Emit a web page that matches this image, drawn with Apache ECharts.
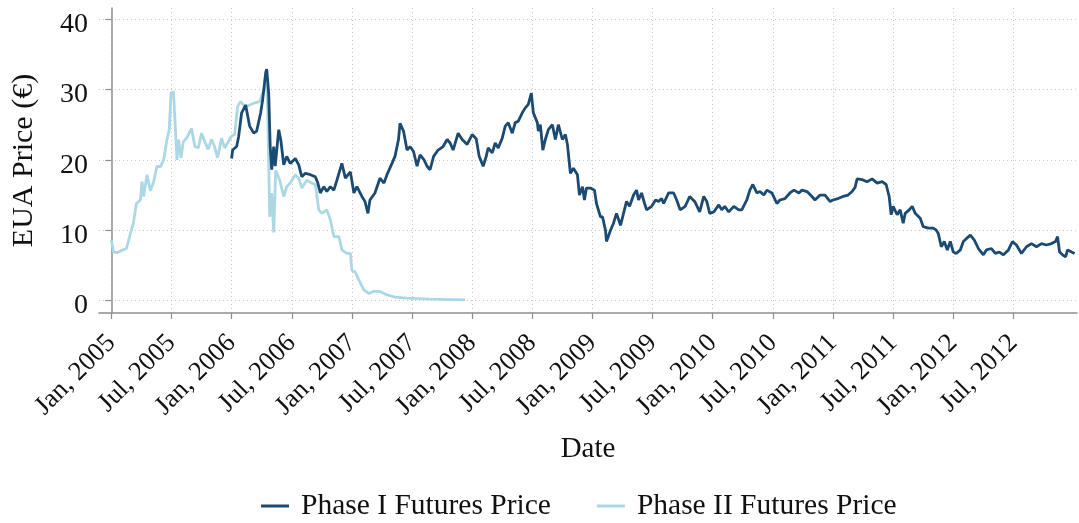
<!DOCTYPE html>
<html>
<head>
<meta charset="utf-8">
<script src="https://cdn.jsdelivr.net/npm/echarts@6/dist/echarts.min.js"></script>
<style>
  html, body { margin: 0; padding: 0; background: #fff; }
  #chart { width: 1079px; height: 523px; }
</style>
</head>
<body>
<div id="chart"></div>
<script>
// x values are months counted from the first tick (Jan, 2005)
const tickMonths = [0, 6, 12, 18, 24, 30, 36, 42, 48, 54, 60, 66, 72, 78, 84, 90];
const tickLabels = ['Jan, 2005', 'Jul, 2005', 'Jan, 2006', 'Jul, 2006', 'Jan, 2007', 'Jul, 2007',
  'Jan, 2008', 'Jul, 2008', 'Jan, 2009', 'Jul, 2009', 'Jan, 2010', 'Jul, 2010',
  'Jan, 2011', 'Jul, 2011', 'Jan, 2012', 'Jul, 2012'];
const yTicks = [0, 10, 20, 30, 40];

const phase1Months = [12.0, 12.1, 12.5, 12.7, 13.0, 13.4, 13.8, 14.2, 14.5, 14.9, 15.1, 15.4, 15.5, 15.7, 15.85,
  16.0, 16.2, 16.35, 16.7, 16.9, 17.2, 17.5, 17.85, 18.35, 18.7, 19.0, 19.35, 19.85, 20.35, 20.6, 20.85,
  21.2, 21.5, 21.85, 22.2, 22.5, 23.0, 23.35, 23.85, 24.2, 24.5, 25.0, 25.3, 25.6, 25.8, 26.3, 26.8,
  27.2, 27.5, 28.0, 28.3, 28.65, 28.8, 29.15, 29.5, 29.8, 30.15, 30.5, 30.8, 31.2, 31.5, 31.8, 32.15,
  32.6, 33.1, 33.5, 33.8, 34.1, 34.6, 35.0, 35.5, 36.0, 36.4, 36.7, 37.1, 37.4, 37.6, 38.0, 38.3,
  38.6, 39.0, 39.3, 39.6, 40.0, 40.3, 40.6, 41.0, 41.3, 41.6, 41.9, 42.1, 42.5, 42.6, 42.8, 43.05,
  43.3, 43.6, 44.0, 44.3, 44.6, 45.0, 45.3, 45.5, 45.8, 46.1, 46.5, 46.7, 47.0, 47.2, 47.4, 47.8,
  48.2, 48.4, 48.8, 49.0, 49.3, 49.4, 49.8, 50.1, 50.4, 50.8, 51.1, 51.4, 51.7, 52.1, 52.4, 52.6,
  52.9, 53.2, 53.4, 53.9, 54.3, 54.6, 54.9, 55.1, 55.6, 56.1, 56.4, 56.75, 57.25, 57.7, 58.2, 58.7,
  59.1, 59.4, 59.7, 60.1, 60.6, 60.9, 61.2, 61.6, 62.1, 62.6, 62.9, 63.4, 63.7, 64.0, 64.4, 64.7,
  65.1, 65.4, 65.9, 66.4, 66.7, 67.2, 67.7, 68.1, 68.6, 68.9, 69.4, 69.9, 70.2, 70.7, 71.2, 71.7,
  72.0, 72.5, 73.0, 73.5, 73.9, 74.2, 74.4, 74.9, 75.4, 75.9, 76.4, 76.9, 77.3, 77.6, 77.8, 78.0,
  78.4, 78.7, 79.0, 79.2, 79.6, 79.9, 80.2, 80.7, 81.0, 81.5, 82.0, 82.3, 82.5, 82.8, 83.1, 83.4,
  83.7, 84.0, 84.3, 84.7, 85.0, 85.3, 85.7, 86.1, 86.5, 87.0, 87.3, 87.8, 88.2, 88.6, 89.0, 89.5,
  89.9, 90.3, 90.8, 91.3, 91.8, 92.3, 92.8, 93.3, 93.8, 94.2, 94.4, 94.6, 94.9, 95.2, 95.4, 95.8, 96.1];
const phase1Prices = [20.2, 21.4, 21.9, 23.3, 26.7, 27.8, 24.8, 23.8, 24.1, 26.7, 28.6, 32.4, 32.9, 29.5, 21.9,
  18.6, 21.9, 19.1, 24.3, 22.9, 19.3, 20.5, 19.5, 20.2, 19.3, 17.6, 18.1, 17.9, 17.6, 16.7, 15.3,
  16.2, 15.5, 16.2, 15.7, 17.1, 19.5, 17.4, 18.3, 15.3, 16.2, 14.8, 14.1, 12.4, 14.3, 15.3, 17.4,
  16.7, 17.9, 19.5, 20.5, 22.9, 25.2, 24.1, 21.4, 21.9, 21.2, 19.1, 20.7, 20.0, 19.1, 18.6, 20.5,
  21.4, 21.9, 22.9, 22.4, 21.4, 23.8, 22.9, 22.2, 23.6, 23.0, 20.5, 19.1, 20.5, 21.7, 21.0, 22.4,
  21.7, 23.1, 24.8, 25.3, 23.8, 25.3, 25.5, 26.7, 27.4, 27.9, 29.5, 26.7, 25.3, 24.1, 25.0, 21.4,
  22.9, 24.3, 25.0, 22.9, 25.0, 22.9, 23.6, 22.2, 18.1, 18.8, 17.9, 15.0, 16.2, 14.3, 16.0, 16.0,
  15.7, 13.8, 11.9, 11.9, 10.0, 8.4, 10.0, 11.0, 12.4, 10.7, 12.4, 14.1, 13.4, 15.0, 15.7, 14.3,
  15.3, 13.8, 12.9, 13.4, 14.3, 14.1, 14.5, 13.8, 15.3, 15.3, 14.3, 12.9, 13.4, 14.8, 14.1, 12.6,
  14.8, 14.1, 12.4, 12.6, 13.6, 12.9, 13.4, 12.6, 13.4, 12.9, 12.9, 14.3, 15.7, 16.5, 15.3, 15.5,
  15.0, 15.7, 15.3, 13.8, 14.3, 14.5, 15.3, 15.7, 15.3, 15.7, 15.5, 14.8, 14.3, 15.0, 15.0, 14.1,
  14.3, 14.5, 14.8, 15.0, 15.5, 16.1, 17.3, 17.2, 16.9, 17.3, 16.7, 16.9, 16.5, 14.8, 12.2, 13.4,
  12.2, 12.9, 11.0, 12.4, 12.9, 13.4, 12.4, 11.7, 10.5, 10.3, 10.3, 10.0, 9.55, 7.65, 8.4, 7.2,
  8.4, 6.9, 6.7, 7.2, 8.4, 8.8, 9.3, 8.6, 7.4, 6.5, 7.2, 7.4, 6.7, 6.9, 6.5, 7.2,
  8.4, 7.9, 6.7, 7.65, 8.1, 7.65, 8.1, 7.9, 8.1, 8.4, 9.1, 6.9, 6.5, 6.2, 7.2, 6.9, 6.7];

const phase2Months = [0.0, 0.23, 0.57, 1.0, 1.5, 1.9, 2.2, 2.5, 2.9, 3.06, 3.22, 3.56, 3.89, 4.22, 4.55, 4.89,
  5.22, 5.55, 5.78, 5.95, 6.2, 6.38, 6.55, 6.71, 6.95, 7.18, 7.51, 8.0, 8.33, 8.67, 9.0, 9.33,
  9.66, 10.0, 10.3, 10.6, 11.0, 11.3, 11.6, 12.0, 12.3, 12.6, 12.9, 13.3, 13.8, 14.3, 14.8, 15.1,
  15.5, 15.6, 15.8, 16.0, 16.2, 16.4, 16.8, 17.2, 17.5, 17.85, 18.35, 18.7, 19.0, 19.5, 20.0, 20.35,
  20.7, 21.0, 21.5, 21.85, 22.2, 22.7, 23.0, 23.5, 23.85, 24.0, 24.3, 24.7, 25.2, 25.7, 26.2, 26.8,
  27.5, 28.3, 29.5, 31.8, 35.3];
const phase2Prices = [8.6, 6.9, 6.8, 7.1, 7.4, 9.5, 11.0, 13.8, 14.3, 16.9, 14.8, 17.9, 15.6, 16.9, 19.1, 19.0,
  20.0, 22.9, 24.3, 29.5, 29.7, 24.8, 20.0, 22.9, 20.3, 22.6, 23.1, 24.5, 21.9, 21.7, 23.8, 22.6,
  21.5, 22.9, 21.9, 20.3, 23.1, 21.7, 22.4, 23.4, 23.6, 27.6, 28.3, 27.6, 27.8, 28.1, 28.3, 29.5,
  30.9, 27.1, 11.9, 15.3, 9.7, 18.5, 17.1, 14.8, 16.2, 16.7, 17.9, 17.4, 16.0, 17.1, 16.7, 16.5,
  12.9, 12.4, 12.9, 11.5, 9.1, 9.1, 7.2, 6.7, 6.7, 4.3, 4.1, 2.9, 1.5, 1.0, 1.3, 1.3,
  0.8, 0.5, 0.35, 0.2, 0.1];

const zip = (xs, ys) => xs.map((x, i) => [x, ys[i]]);

const FONT = '"Liberation Serif", "DejaVu Serif", serif';
const AXIS_GREY = '#8f8f8f';

const chart = echarts.init(document.getElementById('chart'));
chart.setOption({
  backgroundColor: '#ffffff',
  animation: false,
  textStyle: { fontFamily: FONT, color: '#111' },
  grid: { left: 99, right: 2, top: 8, bottom: 210 },
  legend: {
    left: 256,
    top: 486,
    icon: 'rect',
    itemWidth: 28,
    itemHeight: 3,
    itemGap: 46,
    textStyle: { fontFamily: FONT, fontSize: 29.5, color: '#111', padding: [0, 0, 0, 7] },
    data: ['Phase I Futures Price', 'Phase II Futures Price']
  },
  xAxis: {
    type: 'value',
    min: -1.23,
    max: 96.34,
    name: 'Date',
    nameLocation: 'middle',
    nameGap: 122,
    nameTextStyle: { fontFamily: FONT, fontSize: 29, color: '#111' },
    axisLine: { onZero: false, lineStyle: { color: AXIS_GREY, width: 1.5 } },
    axisTick: { show: true, length: 6, customValues: tickMonths, lineStyle: { color: AXIS_GREY, width: 1.2 } },
    axisLabel: {
      customValues: tickMonths,
      rotate: 45,
      margin: 26,
      fontFamily: FONT,
      fontSize: 26.5,
      color: '#111',
      formatter: v => tickLabels[tickMonths.indexOf(v)] || ''
    },
    splitLine: { show: true, lineStyle: { color: '#c8c8c8', type: [1, 3], width: 1 } }
  },
  yAxis: {
    type: 'value',
    min: -1.77,
    max: 41.6,
    name: 'EUA Price (€)',
    nameLocation: 'middle',
    nameRotate: 90,
    nameGap: 60,
    nameTextStyle: { fontFamily: FONT, fontSize: 30, color: '#111' },
    axisLine: { show: true, lineStyle: { color: AXIS_GREY, width: 1.5 } },
    axisTick: { show: true, length: 6, customValues: yTicks, lineStyle: { color: AXIS_GREY, width: 1.2 } },
    axisLabel: {
      customValues: yTicks,
      margin: 11,
      color: '#111',
      formatter: v => '{t|' + v + '}',
      rich: {
        t: { fontFamily: FONT, fontSize: 28, color: '#111', padding: [11, 0, 0, 0] }
      }
    },
    splitLine: { show: true, lineStyle: { color: '#c8c8c8', type: [1, 3], width: 1 } }
  },
  series: [
    {
      name: 'Phase I Futures Price',
      type: 'line',
      data: zip(phase1Months, phase1Prices),
      showSymbol: false,
      symbol: 'none',
      z: 3,
      color: '#1b4a73',
      lineStyle: { width: 2.8, color: '#1b4a73' }
    },
    {
      name: 'Phase II Futures Price',
      type: 'line',
      data: zip(phase2Months, phase2Prices),
      showSymbol: false,
      symbol: 'none',
      z: 2,
      color: '#acd8e6',
      lineStyle: { width: 2.8, color: '#acd8e6' }
    }
  ]
});
</script>
</body>
</html>
